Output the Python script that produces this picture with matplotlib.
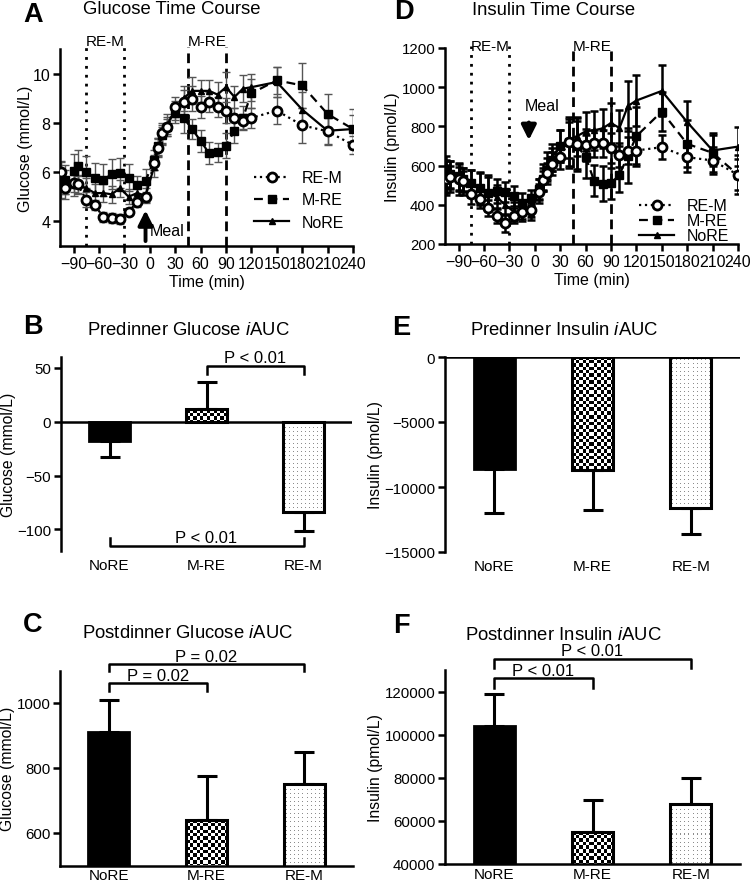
import numpy as np
import matplotlib
matplotlib.use('Agg')
import matplotlib.pyplot as plt
import matplotlib.transforms as mtransforms

plt.rcParams['font.family'] = ['Liberation Sans', 'DejaVu Sans']
plt.rcParams['mathtext.fontset'] = 'custom'
plt.rcParams['mathtext.it'] = 'Liberation Sans:italic'
plt.rcParams['mathtext.rm'] = 'Liberation Sans'

# time points (min)
time = [-105, -100, -90, -85, -75, -65, -55, -45, -35, -25, -15, -5, 5, 10, 15, 20,
        30, 40, 50, 60, 70, 80, 90, 100, 110, 120, 150, 180, 210, 240]

# glucose (mmol/L)
glu_rem = [6.0, 5.36, 5.55, 5.5, 4.88, 4.68, 4.17, 4.13, 4.1, 4.4, 4.78, 5.0, 6.38, 7.0, 7.6, 7.85,
           8.64, 8.84, 8.98, 8.64, 8.84, 8.64, 8.5, 8.2, 8.06, 8.2, 8.5, 7.9, 7.66, 7.1]
glu_mre = [5.8, 5.7, 6.05, 6.24, 6.0, 5.77, 5.67, 5.93, 5.97, 5.77, 5.46, 5.63, 6.5, 7.05, 7.5, 7.85,
           8.4, 8.2, 7.75, 7.27, 6.77, 6.8, 7.07, 7.68, 8.2, 9.2, 9.73, 9.52, 8.36, 7.75]
glu_nore = [5.4, 5.6, 5.5, 5.5, 5.35, 5.15, 5.15, 5.1, 5.35, 5.0, 5.15, 5.05, 6.2, 7.0, 7.5, 7.9,
            8.5, 9.0, 9.3, 9.3, 9.3, 9.15, 9.45, 9.05, 9.39, 9.45, 9.66, 8.54, 7.68, 7.75]
glu_rem_se = [0.45, 0.45, 0.35, 0.35, 0.3, 0.2, 0.2, 0.2, 0.2, 0.15, 0.2, 0.2, 0.3, 0.35, 0.4, 0.4,
              0.4, 0.5, 0.5, 0.45, 0.4, 0.4, 0.5, 0.4, 0.3, 0.4, 0.55, 0.7, 0.55, 0.35]
glu_mre_se = [0.6, 0.6, 0.7, 0.65, 0.65, 0.6, 0.65, 0.6, 0.6, 0.55, 0.4, 0.5, 0.4, 0.35, 0.35, 0.3,
              0.4, 0.6, 0.4, 0.45, 0.45, 0.4, 0.5, 0.5, 0.5, 0.6, 0.55, 0.9, 0.8, 0.8]
glu_nore_se = [0.45, 0.5, 0.45, 0.4, 0.4, 0.35, 0.35, 0.35, 0.35, 0.3, 0.3, 0.3, 0.4, 0.4, 0.4, 0.45,
               0.4, 0.5, 0.55, 0.45, 0.45, 0.5, 0.6, 0.45, 0.55, 0.55, 0.6, 0.7, 0.55, 0.55]

# insulin (pmol/L)
ins_rem = [532, 540, 532, 520, 455, 430, 382, 345, 307, 345, 362, 374, 467, 524, 560, 610,
           643, 720, 711, 706, 714, 714, 689, 655, 677, 677, 694, 643, 626, 553]
ins_mre = [570, 555, 545, 530, 510, 485, 460, 470, 465, 445, 410, 435, 480, 530, 580, 630,
           700, 720, 700, 646, 523, 507, 510, 553, 651, 750, 876, 711, 665, 553]
ins_nore = [540, 545, 530, 520, 510, 480, 460, 440, 400, 365, 370, 360, 470, 540, 600, 640,
            700, 730, 750, 775, 780, 790, 817, 792, 904, 932, 981, 822, 677, 697]
ins_rem_se = [70, 60, 60, 55, 50, 45, 40, 40, 45, 40, 45, 35, 40, 50, 55, 60,
              60, 130, 130, 80, 70, 70, 75, 60, 70, 70, 60, 75, 70, 80]
ins_mre_se = [80, 70, 70, 60, 70, 80, 90, 60, 50, 50, 50, 40, 50, 60, 60, 60,
              80, 120, 130, 110, 80, 90, 80, 90, 140, 150, 100, 120, 100, 100]
ins_nore_se = [90, 80, 80, 70, 70, 80, 80, 60, 50, 50, 40, 40, 60, 70, 70, 70,
               80, 90, 100, 100, 100, 100, 100, 90, 130, 130, 130, 110, 80, 100]

# iAUC bars
groups = ['NoRE', 'M-RE', 'RE-M']
pre_glu = [-18, 12, -84]
pre_glu_se = [15, 25, 17]
post_glu = [910, 640, 750]
post_glu_se = [100, 135, 100]
pre_ins = [-8600, -8700, -11600]
pre_ins_se = [3400, 3100, 2000]
post_ins = [104000, 55000, 68000]
post_ins_se = [15000, 14500, 12000]

W, H = 750, 887
fig = plt.figure(figsize=(W / 100, H / 100), dpi=100)


def px_axes(l, t, r, b):
    return fig.add_axes([l / W, 1 - b / H, (r - l) / W, (b - t) / H])


def style(ax, bottom=True, size=11.5):
    for s in ['top', 'right']:
        ax.spines[s].set_visible(False)
    ax.spines['left'].set_linewidth(1.8)
    ax.spines['bottom'].set_linewidth(1.8)
    ax.spines['bottom'].set_visible(bottom)
    ax.tick_params(width=1.8, length=5, labelsize=size, pad=2)


def fig_text(x, y, s, **kw):
    fig.text(x / W, 1 - y / H, s, va='baseline', **kw)


def panel_title(lx, ly, letter, tx, ty, title):
    fig_text(lx, ly, letter, fontsize=19.5, fontweight='bold')
    fig_text(tx, ty, title, fontsize=13.3)


def time_course(ax, rem, mre, nore, rem_se, mre_se, nore_se, ecol, elw):
    ax.errorbar(time, mre, yerr=mre_se, fmt='none', ecolor=ecol, elinewidth=elw, capsize=3, capthick=elw, zorder=2)
    ax.errorbar(time, nore, yerr=nore_se, fmt='none', ecolor=ecol, elinewidth=elw, capsize=3, capthick=elw, zorder=2)
    ax.errorbar(time, rem, yerr=rem_se, fmt='none', ecolor=ecol, elinewidth=elw, capsize=3, capthick=elw, zorder=2)
    ax.plot(time, mre, color='black', ls=(0, (4, 2.5)), lw=1.6, marker='s', ms=5.5, label='M-RE', zorder=3)
    ax.plot(time, nore, color='black', ls='-', lw=1.6, marker='^', ms=4, label='NoRE', zorder=3)
    ax.plot(time, rem, color='black', ls=':', lw=1.6, marker='o', ms=6.5, mfc='white', mew=2,
            label='RE-M', zorder=4)
    ax.set_xlim(-106, 240)
    ax.set_xticks([-90, -60, -30, 0, 30, 60, 90, 120, 150, 180, 210, 240])
    ax.set_xlabel('Time (min)', fontsize=11.5, labelpad=2)
    h, l = ax.get_legend_handles_labels()
    order = [2, 0, 1]
    return [h[i] for i in order], [l[i] for i in order]


def exercise_lines(ax, top, ly):
    for x in [-75, -30]:
        ax.axvline(x, 0, top, color='black', ls=(0, (1, 2.2)), lw=2, clip_on=False, zorder=1)
    for x in [45, 90]:
        ax.axvline(x, 0, top, color='black', ls=(0, (3.5, 2)), lw=2, clip_on=False, zorder=1)
    tr = mtransforms.blended_transform_factory(ax.transData, ax.transAxes)
    ax.text(-52.5, ly, 'RE-M', transform=tr, ha='center', va='center', fontsize=11)
    ax.text(67.5, ly, 'M-RE', transform=tr, ha='center', va='center', fontsize=11)


# ---- A: glucose time course
axA = px_axes(60, 50, 353, 247)
style(axA)
hA, lA = time_course(axA, glu_rem, glu_mre, glu_nore, glu_rem_se, glu_mre_se, glu_nore_se, '#555555', 1.0)
axA.set_ylim(3, 11)
axA.set_yticks([4, 6, 8, 10])
axA.set_ylabel('Glucose (mmol/L)', fontsize=11.5, labelpad=0)
exercise_lines(axA, 1.01, 1.04)
axA.annotate('', xy=(-5, 4.45), xytext=(-5, 3.2),
             arrowprops=dict(arrowstyle='-|>', color='black', lw=2.8, mutation_scale=22,
                             shrinkA=0, shrinkB=0))
axA.text(0.5, 3.62, 'Meal', fontsize=11.5, ha='left', va='center')
axA.legend(hA, lA, loc='lower right', bbox_to_anchor=(1.02, 0.01), frameon=False, fontsize=11.5,
           handlelength=2.2, labelspacing=0.45, handletextpad=0.8)
panel_title(23, 22, 'A', 83, 14, 'Glucose Time Course')

# ---- D: insulin time course
axD = px_axes(445, 49, 738, 245)
style(axD)
axD.tick_params(axis='y', labelsize=10.8)
hD, lD = time_course(axD, ins_rem, ins_mre, ins_nore, ins_rem_se, ins_mre_se, ins_nore_se, 'black', 1.8)
axD.set_ylim(200, 1200)
axD.set_yticks([200, 400, 600, 800, 1000, 1200])
axD.set_ylabel('Insulin (pmol/L)', fontsize=11.5, labelpad=1)
exercise_lines(axD, 1.01, 1.01)
axD.annotate('', xy=(-7, 730), xytext=(-7, 820),
             arrowprops=dict(arrowstyle='-|>', color='black', lw=2.8, mutation_scale=22,
                             shrinkA=0, shrinkB=0))
axD.text(9, 905, 'Meal', fontsize=11.5, ha='center', va='center')
axD.legend(hD, lD, loc='lower right', bbox_to_anchor=(1.02, -0.07), frameon=False, fontsize=11.5,
           handlelength=2.2, labelspacing=0.0, handletextpad=0.8)
panel_title(394, 19, 'D', 472, 15, 'Insulin Time Course')


# ---- bar panels
def pattern(ax, x0, x1, y0, y1, kind):
    p0 = ax.transData.transform((x0, y0))
    p1 = ax.transData.transform((x1, y1))
    nx = max(int(round(abs(p1[0] - p0[0]))), 1)
    ny = max(int(round(abs(p1[1] - p0[1]))), 1)
    jj, ii = np.meshgrid(np.arange(nx), np.arange(ny))
    if kind == 'checker':
        img = ((np.floor(ii / 3.4) + np.floor(jj / 3.4)) % 2).astype(float)
    else:
        img = np.ones((ny, nx))
        img[(ii % 4 == 2) & (jj % 4 == 2)] = 0.55
    ax.imshow(img, cmap='gray', vmin=0, vmax=1, extent=(x0, x1, y0, y1), aspect='auto',
              interpolation='nearest', zorder=1)


def bar_panel(ax, means, ses, ylim, zero_line):
    x = np.arange(len(groups))
    w = 0.42
    ax.set_xlim(-0.5, 2.5)
    ax.set_ylim(*ylim)
    lo = [s if m < 0 else 0 for m, s in zip(means, ses)]
    hi = [s if m >= 0 else 0 for m, s in zip(means, ses)]
    ax.errorbar(x, means, yerr=[lo, hi], fmt='none', ecolor='black', elinewidth=2.2, capsize=7,
                capthick=2.2, zorder=0)
    for i, m in enumerate(means):
        y0 = max(min(0, m), ylim[0])
        y1 = min(max(0, m), ylim[1])
        if i == 0:
            ax.bar(x[i], m, w, color='black', edgecolor='black', lw=2, zorder=2)
        else:
            pattern(ax, x[i] - w / 2, x[i] + w / 2, y0, y1, 'checker' if i == 1 else 'dots')
            ax.bar(x[i], m, w, facecolor='none', edgecolor='black', lw=2.2, zorder=2)
    ax.set_xlim(-0.5, 2.5)
    ax.set_ylim(*ylim)
    ax.set_xticks(x)
    ax.set_xticklabels(groups, fontsize=11)
    ax.tick_params(axis='x', length=0, pad=5)
    if zero_line:
        ax.axhline(0, color='black', lw=1.8, zorder=3)


def bracket(ax, a, b, y, tick, label, text_y):
    ax.plot([a, a, b, b], [y + tick, y, y, y + tick], color='black', lw=1.8, clip_on=False, zorder=4)
    ax.text((a + b) / 2, text_y, label, ha='center', va='bottom', fontsize=12, clip_on=False)


# B
axB = px_axes(61, 358, 352, 552)
style(axB, bottom=False, size=10.8)
bar_panel(axB, pre_glu, pre_glu_se, (-120, 60), True)
axB.set_yticks([-100, -50, 0, 50])
axB.set_ylabel('Glucose (mmol/L)', fontsize=11.3, labelpad=1)
bracket(axB, 1, 2, 52, -8, 'P < 0.01', 53)
bracket(axB, 0, 2, -115.5, 7.5, 'P < 0.01', -114)
panel_title(23, 334, 'B', 87, 335, 'Predinner Glucose $\\mathit{i}$AUC')

# E
axE = px_axes(445, 358, 740, 553)
style(axE, bottom=False, size=10.8)
bar_panel(axE, pre_ins, pre_ins_se, (-15000, 0), True)
axE.set_yticks([-15000, -10000, -5000, 0])
axE.set_ylabel('Insulin (pmol/L)', fontsize=11.3, labelpad=1)
panel_title(392, 335, 'E', 470, 335, 'Predinner Insulin $\\mathit{i}$AUC')

# C
axC = px_axes(60, 671.5, 353, 866.5)
style(axC, size=10.8)
bar_panel(axC, post_glu, post_glu_se, (500, 1100), False)
axC.tick_params(axis='x', pad=2)
axC.set_yticks([600, 800, 1000])
axC.set_ylabel('Glucose (mmol/L)', fontsize=11.3, labelpad=1)
bracket(axC, 0, 1, 1062, -24, 'P = 0.02', 1063)
bracket(axC, 0, 2, 1120, -22, 'P = 0.02', 1121)
panel_title(23, 632, 'C', 82, 638, 'Postdinner Glucose $\\mathit{i}$AUC')

# F
axF = px_axes(445, 671, 740, 865)
style(axF, size=10.8)
bar_panel(axF, post_ins, post_ins_se, (40000, 130000), False)
axF.tick_params(axis='x', pad=2)
axF.set_yticks([40000, 60000, 80000, 100000, 120000])
axF.set_ylabel('Insulin (pmol/L)', fontsize=11.3, labelpad=1)
bracket(axF, 0, 1, 126200, -4500, 'P < 0.01', 126400)
bracket(axF, 0, 2, 135200, -4200, 'P < 0.01', 135400)
panel_title(393, 633, 'F', 465, 640, 'Postdinner Insulin $\\mathit{i}$AUC')

fig.savefig('out.png', dpi=100)
